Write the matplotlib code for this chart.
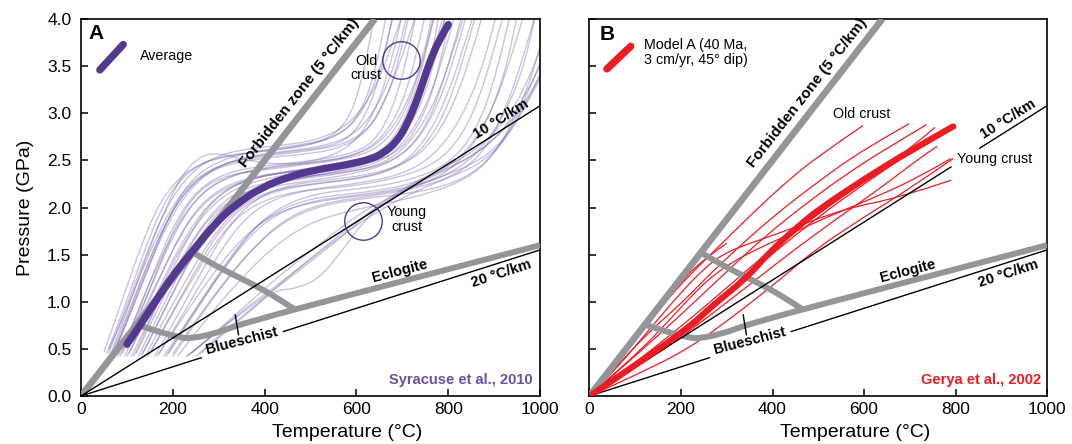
import numpy as np
import matplotlib.pyplot as plt
from matplotlib.path import Path
from matplotlib.patches import PathPatch

plt.rcParams['font.family'] = ['Liberation Sans', 'DejaVu Sans']

GRAY = '#939598'
PURPLE = '#54388f'
LIGHT_PURPLE = '#6a52a3'
RED = '#ed1c24'

# geotherms (T in degC, P in GPa), straight lines through the origin
geo5_T, geo5_P = [0, 640], [0, 4.0]
geo10_T, geo10_P = [0, 1000], [0, 3.08]
# 20 C/km is broken where the Blueschist label sits
geo20_a_T, geo20_a_P = [0, 262], [0, 0.406]
geo20_b_T, geo20_b_P = [441, 1000], [0.684, 1.55]
# panel B: 10 C/km broken before its label
geo10_a_T, geo10_a_P = [0, 790], [0, 2.43]
geo10_b_T, geo10_b_P = [853, 1000], [2.63, 3.08]

# facies boundaries
ecl_lower_T = [120, 170, 217, 239, 290, 341, 400, 465, 1000]
ecl_lower_P = [0.76, 0.68, 0.62, 0.61, 0.66, 0.75, 0.83, 0.92, 1.60]
ecl_upper_T = [244, 305, 377, 428, 465]
ecl_upper_P = [1.52, 1.35, 1.18, 1.04, 0.92]
bs_tick_T = [336, 343]
bs_tick_P = [0.86, 0.65]

# Syracuse et al. (2010) slab-top paths
avg_T = [100, 130, 163, 200, 245, 290, 336, 396, 450, 500, 576, 630, 660, 688, 710, 731, 745, 760, 780, 800]
avg_P = [0.55, 0.76, 1.01, 1.28, 1.55, 1.82, 2.03, 2.22, 2.32, 2.39, 2.45, 2.51, 2.58, 2.70, 2.88, 3.13, 3.33, 3.55, 3.78, 3.94]

syr_T = [
    [55, 90, 130, 170, 210, 260, 320, 400, 500, 580, 630, 660, 690, 715],
    [65, 100, 140, 180, 230, 290, 380, 480, 560, 620, 660, 700, 730],
    [80, 120, 160, 200, 250, 310, 400, 500, 600, 660, 700, 730, 750],
    [90, 130, 170, 215, 265, 330, 420, 520, 620, 680, 720, 750, 770],
    [100, 140, 180, 220, 270, 330, 420, 520, 610, 670, 720, 760, 790],
    [110, 150, 190, 235, 290, 350, 440, 540, 640, 700, 750, 790, 815],
    [120, 160, 200, 250, 300, 370, 460, 560, 650, 710, 760, 795],
    [130, 170, 215, 265, 320, 390, 490, 590, 680, 740, 790, 830],
    [75, 110, 150, 190, 240, 300, 380, 470, 550, 600, 640, 665, 680],
    [60, 95, 135, 175, 215, 270, 350, 450, 530, 580, 610, 630, 640],
    [85, 125, 165, 205, 255, 320, 410, 510, 600, 650, 690, 715, 730],
    [140, 180, 225, 280, 340, 410, 500, 600, 690, 750, 800, 840, 855],
    [150, 195, 245, 300, 360, 440, 540, 640, 720, 780, 830, 860],
    [100, 135, 175, 215, 260, 320, 400, 480, 560, 640, 690, 730, 760, 770],
    [115, 155, 195, 240, 290, 360, 450, 550, 640, 700, 745, 780, 805],
    [160, 210, 260, 320, 380, 460, 560, 660, 740, 800, 850, 875],
    [50, 85, 120, 160, 200, 250, 320, 400, 480, 560, 610, 645, 665],
    [70, 110, 150, 195, 240, 300, 380, 460, 540, 600, 640, 670, 680],
    [95, 135, 180, 230, 285, 350, 440, 540, 630, 690, 730, 765, 780],
    [170, 220, 280, 340, 400, 480, 580, 680, 770, 830, 880, 920],
    [180, 240, 300, 360, 420, 500, 600, 700, 790, 860, 910, 950, 965],
    [200, 260, 320, 380, 450, 530, 630, 730, 820, 880, 930, 970, 990],
    [210, 270, 340, 410, 490, 570, 670, 760, 840, 900, 950, 990, 1010],
    [190, 250, 310, 370, 430, 510, 610, 710, 800, 860, 905, 935],
    [230, 300, 370, 440, 520, 590, 640, 700, 780, 860, 930, 980, 1010],
    [250, 320, 390, 460, 530, 600, 660, 730, 820, 900, 960, 1010],
    [260, 320, 380, 420, 470, 520, 570, 615, 660, 740, 840, 920, 980, 1010],
    [230, 290, 350, 420, 500, 580, 660, 740, 820, 880, 930, 970, 1010],
    [240, 310, 380, 450, 530, 610, 690, 770, 850, 910, 960, 1010],
    [105, 145, 185, 230, 280, 340, 430, 530, 620, 680, 730, 770, 795],
    [125, 165, 205, 255, 310, 380, 470, 570, 660, 720, 770, 810, 835],
    [70, 105, 145, 190, 240, 300, 370, 450, 530, 600, 650, 690, 710],
    [90, 125, 165, 210, 260, 330, 420, 510, 600, 660, 705, 745, 765],
    [145, 190, 240, 290, 350, 420, 510, 610, 700, 770, 830, 880, 905],
    [165, 220, 280, 340, 400, 470, 560, 660, 750, 820, 880, 930, 950],
    [60, 95, 135, 180, 225, 280, 350, 440, 520, 590, 640, 680, 700],
    [135, 175, 220, 270, 330, 400, 490, 590, 670, 730, 780, 820, 840],
    [200, 250, 310, 370, 440, 520, 620, 720, 810, 880, 940, 985, 1010],
    [185, 240, 300, 360, 420, 500, 600, 700, 790, 860, 920, 970, 990],
    [65, 100, 140, 180, 220, 260, 300, 360, 440, 520, 590, 640, 680, 700],
]
syr_P = [
    [0.45, 0.80, 1.30, 1.75, 2.10, 2.35, 2.48, 2.55, 2.60, 2.68, 2.85, 3.10, 3.50, 4.05],
    [0.42, 0.85, 1.35, 1.80, 2.20, 2.42, 2.52, 2.56, 2.62, 2.78, 3.10, 3.60, 4.05],
    [0.42, 0.80, 1.25, 1.70, 2.10, 2.32, 2.42, 2.47, 2.55, 2.75, 3.10, 3.60, 4.05],
    [0.45, 0.85, 1.25, 1.70, 2.05, 2.25, 2.36, 2.42, 2.50, 2.70, 3.10, 3.60, 4.05],
    [0.42, 0.80, 1.20, 1.60, 1.95, 2.20, 2.33, 2.40, 2.45, 2.60, 2.95, 3.50, 4.05],
    [0.42, 0.82, 1.20, 1.60, 1.98, 2.20, 2.30, 2.36, 2.45, 2.65, 3.05, 3.60, 4.05],
    [0.45, 0.85, 1.25, 1.70, 2.00, 2.20, 2.30, 2.38, 2.50, 2.80, 3.30, 4.05],
    [0.42, 0.80, 1.25, 1.70, 2.02, 2.20, 2.28, 2.35, 2.48, 2.75, 3.30, 4.05],
    [0.50, 0.95, 1.45, 1.90, 2.25, 2.45, 2.55, 2.60, 2.65, 2.80, 3.20, 3.70, 4.05],
    [0.50, 0.95, 1.50, 2.00, 2.30, 2.50, 2.58, 2.62, 2.70, 2.90, 3.30, 3.80, 4.05],
    [0.42, 0.90, 1.40, 1.85, 2.20, 2.38, 2.45, 2.50, 2.58, 2.75, 3.20, 3.70, 4.05],
    [0.42, 0.80, 1.20, 1.65, 2.00, 2.18, 2.25, 2.30, 2.42, 2.70, 3.20, 3.80, 4.05],
    [0.45, 0.85, 1.30, 1.75, 2.05, 2.20, 2.27, 2.33, 2.50, 2.85, 3.50, 4.05],
    [0.50, 0.95, 1.45, 1.90, 2.20, 2.35, 2.40, 2.45, 2.50, 2.60, 2.85, 3.30, 3.85, 4.05],
    [0.42, 0.85, 1.30, 1.75, 2.10, 2.30, 2.38, 2.42, 2.48, 2.62, 2.95, 3.45, 4.05],
    [0.42, 0.85, 1.30, 1.80, 2.10, 2.25, 2.30, 2.38, 2.55, 2.95, 3.60, 4.05],
    [0.47, 0.95, 1.45, 1.95, 2.25, 2.45, 2.55, 2.60, 2.65, 2.75, 3.00, 3.50, 4.05],
    [0.45, 0.90, 1.40, 1.95, 2.30, 2.50, 2.60, 2.65, 2.72, 2.90, 3.30, 3.80, 4.05],
    [0.42, 0.85, 1.35, 1.85, 2.15, 2.30, 2.38, 2.44, 2.52, 2.72, 3.05, 3.60, 4.05],
    [0.45, 0.85, 1.35, 1.80, 2.05, 2.18, 2.22, 2.30, 2.45, 2.75, 3.30, 4.05],
    [0.42, 0.85, 1.30, 1.70, 1.95, 2.10, 2.15, 2.22, 2.38, 2.70, 3.20, 3.80, 4.05],
    [0.42, 0.85, 1.25, 1.60, 1.90, 2.05, 2.12, 2.20, 2.35, 2.60, 3.10, 3.70, 4.05],
    [0.42, 0.80, 1.20, 1.55, 1.82, 1.95, 2.05, 2.15, 2.30, 2.55, 3.00, 3.50, 3.90],
    [0.45, 0.90, 1.35, 1.75, 2.00, 2.15, 2.20, 2.28, 2.45, 2.80, 3.40, 4.05],
    [0.42, 0.70, 0.95, 1.20, 1.50, 1.78, 2.00, 2.20, 2.40, 2.60, 2.95, 3.40, 3.80],
    [0.42, 0.72, 1.00, 1.30, 1.58, 1.85, 2.05, 2.25, 2.45, 2.70, 3.10, 3.60],
    [0.45, 0.70, 0.95, 1.12, 1.14, 1.25, 1.55, 1.85, 2.05, 2.30, 2.50, 2.80, 3.20, 3.50],
    [0.42, 0.65, 0.90, 1.15, 1.45, 1.75, 2.00, 2.20, 2.35, 2.50, 2.75, 3.10, 3.45],
    [0.45, 0.75, 1.05, 1.35, 1.65, 1.95, 2.15, 2.30, 2.45, 2.65, 3.00, 3.50],
    [0.45, 0.88, 1.30, 1.72, 2.05, 2.27, 2.37, 2.42, 2.50, 2.68, 3.05, 3.60, 4.05],
    [0.42, 0.82, 1.22, 1.68, 2.02, 2.22, 2.30, 2.36, 2.46, 2.70, 3.10, 3.65, 4.05],
    [0.42, 0.85, 1.35, 1.85, 2.22, 2.45, 2.55, 2.60, 2.65, 2.78, 3.10, 3.60, 4.05],
    [0.50, 0.92, 1.38, 1.82, 2.15, 2.35, 2.44, 2.48, 2.55, 2.72, 3.05, 3.55, 4.05],
    [0.42, 0.80, 1.22, 1.62, 1.95, 2.12, 2.20, 2.26, 2.35, 2.55, 2.95, 3.55, 4.05],
    [0.42, 0.82, 1.25, 1.62, 1.88, 2.02, 2.10, 2.15, 2.25, 2.45, 2.85, 3.50, 4.05],
    [0.45, 0.90, 1.42, 1.95, 2.30, 2.52, 2.62, 2.66, 2.72, 2.90, 3.25, 3.75, 4.05],
    [0.45, 0.85, 1.28, 1.72, 2.05, 2.25, 2.33, 2.38, 2.47, 2.68, 3.10, 3.70, 4.05],
    [0.45, 0.80, 1.20, 1.55, 1.85, 2.02, 2.10, 2.15, 2.25, 2.45, 2.85, 3.35, 3.65],
    [0.42, 0.85, 1.28, 1.66, 1.92, 2.07, 2.13, 2.20, 2.32, 2.55, 2.95, 3.55, 4.05],
    [0.45, 0.90, 1.45, 1.95, 2.35, 2.55, 2.58, 2.50, 2.45, 2.50, 2.65, 3.00, 3.60, 4.05],
]

# Gerya et al. (2002) model paths
modelA_T = [0, 116, 221, 264, 343, 392, 456, 501, 603, 700, 795]
modelA_P = [0, 0.38, 0.74, 0.94, 1.25, 1.52, 1.80, 1.98, 2.31, 2.60, 2.86]

gerya_T = [
    [0, 60, 120, 166, 220, 275, 363, 430, 501, 598],
    [0, 60, 130, 200, 260, 326, 400, 501, 600, 699],
    [0, 70, 150, 230, 300, 380, 470, 560, 650, 737],
    [0, 80, 170, 260, 340, 430, 520, 620, 700, 755],
    [0, 100, 217, 327, 420, 492, 600, 700, 795],
    [0, 60, 130, 200, 250, 292, 350, 416, 559, 674, 791],
    [0, 70, 150, 230, 320, 410, 500, 600, 700, 750],
    [0, 50, 110, 170, 230, 280, 340, 430, 520, 620, 720, 790],
    [0, 90, 180, 270, 360, 450, 540, 640, 720, 760],
    [0, 40, 90, 140, 190, 240, 300],
]
gerya_P = [
    [0, 0.37, 0.74, 1.00, 1.29, 1.55, 1.97, 2.27, 2.55, 2.87],
    [0, 0.32, 0.68, 0.98, 1.28, 1.58, 1.90, 2.28, 2.62, 2.89],
    [0, 0.30, 0.64, 1.00, 1.32, 1.68, 2.03, 2.35, 2.63, 2.88],
    [0, 0.28, 0.62, 0.98, 1.32, 1.68, 2.00, 2.35, 2.62, 2.85],
    [0, 0.22, 0.50, 0.89, 1.25, 1.55, 1.90, 2.20, 2.52],
    [0, 0.30, 0.70, 1.10, 1.35, 1.51, 1.62, 1.73, 1.99, 2.10, 2.29],
    [0, 0.22, 0.50, 0.82, 1.18, 1.55, 1.90, 2.25, 2.58, 2.75],
    [0, 0.22, 0.48, 0.78, 1.10, 1.32, 1.50, 1.70, 1.90, 2.10, 2.32, 2.52],
    [0, 0.27, 0.55, 0.88, 1.22, 1.56, 1.88, 2.22, 2.52, 2.65],
    [0, 0.25, 0.55, 0.85, 1.15, 1.42, 1.62],
]


def smooth(ax, T, P, **kw):
    # quadratic Bezier through the mid-points, using the read points as controls
    pts = np.column_stack([T, P]).astype(float)
    verts = [pts[0]]
    codes = [Path.MOVETO]
    if len(pts) > 2:
        verts.append((pts[0] + pts[1]) / 2)
        codes.append(Path.LINETO)
        for i in range(1, len(pts) - 1):
            end = pts[i + 1] if i == len(pts) - 2 else (pts[i] + pts[i + 1]) / 2
            verts += [pts[i], end]
            codes += [Path.CURVE3, Path.CURVE3]
    else:
        verts.append(pts[1])
        codes.append(Path.LINETO)
    ax.add_patch(PathPatch(Path(verts, codes), fill=False, **kw))


def draw_base(ax, split10=False):
    ax.plot(geo5_T, geo5_P, color=GRAY, lw=4.8, solid_capstyle='butt', zorder=3)
    if split10:
        ax.plot(geo10_a_T, geo10_a_P, color='black', lw=1.0, zorder=4)
        ax.plot(geo10_b_T, geo10_b_P, color='black', lw=1.0, zorder=4)
    else:
        ax.plot(geo10_T, geo10_P, color='black', lw=1.0, zorder=4)
    ax.plot(geo20_a_T, geo20_a_P, color='black', lw=1.0, zorder=4)
    ax.plot(geo20_b_T, geo20_b_P, color='black', lw=1.0, zorder=4)
    smooth(ax, ecl_lower_T, ecl_lower_P, edgecolor=GRAY, lw=4.3, zorder=3)
    smooth(ax, ecl_upper_T, ecl_upper_P, edgecolor=GRAY, lw=4.3, zorder=3)
    ax.plot(bs_tick_T, bs_tick_P, color='black', lw=1.0, zorder=4)

    bold = dict(fontweight='bold', ha='center', va='center',
                rotation_mode='anchor', zorder=6)
    ax.text(476, 3.22, 'Forbidden zone (5 °C/km)', rotation=52, fontsize=11, **bold)
    ax.text(915, 2.94, '10 °C/km', rotation=32, fontsize=10.5, **bold)
    ax.text(915, 1.30, '20 °C/km', rotation=18, fontsize=10.5, **bold)
    ax.text(695, 1.33, 'Eclogite', rotation=14.5, fontsize=10.5, **bold)
    ax.text(350, 0.58, 'Blueschist', rotation=14.5, fontsize=10.5, **bold)

    ax.set_xlim(0, 1000)
    ax.set_ylim(0, 4.0)
    ax.set_xticks([0, 200, 400, 600, 800, 1000])
    ax.set_yticks(np.arange(0, 4.01, 0.5))
    ax.tick_params(direction='in', length=5, width=1.1, labelsize=12.5)
    ax.tick_params(axis='y', pad=7)
    ax.tick_params(axis='x', pad=4)
    for side in ['top', 'right', 'bottom', 'left']:
        ax.spines[side].set_linewidth(1.2)
    ax.set_xlabel('Temperature (°C)', fontsize=14, labelpad=2)
    ax.xaxis.set_label_coords(0.58, -0.075)


fig = plt.figure(figsize=(10.72, 4.44), dpi=100)
axA = fig.add_axes([0.0756, 0.1081, 0.4282, 0.8491])
axB = fig.add_axes([0.5499, 0.1081, 0.4268, 0.8491])

# ---- panel A
draw_base(axA)
for T, P in zip(syr_T, syr_P):
    smooth(axA, T, P, edgecolor=LIGHT_PURPLE, lw=1.0, alpha=0.35, zorder=2)
smooth(axA, avg_T, avg_P, edgecolor=PURPLE, lw=5.3, capstyle='round',
       joinstyle='round', zorder=5)
axA.plot([41, 92], [3.46, 3.73], color=PURPLE, lw=5.3, solid_capstyle='round')
axA.text(128, 3.61, 'Average', fontsize=10.3, va='center')
axA.text(33, 3.85, 'A', fontsize=15, fontweight='bold', ha='center', va='center')
for cx, cy in [(698, 3.56), (615, 1.86)]:
    axA.plot(cx, cy, marker='o', markersize=27, markerfacecolor='none',
             markeredgecolor=PURPLE, markeredgewidth=1.0, zorder=6)
axA.text(621, 3.48, 'Old\ncrust', fontsize=10.3, ha='center', va='center', linespacing=1.05)
axA.text(710, 1.87, 'Young\ncrust', fontsize=10.3, ha='center', va='center', linespacing=1.05)
axA.text(983, 0.17, 'Syracuse et al., 2010', fontsize=10.5, fontweight='bold',
         color='#6b4fa0', ha='right', va='center')
axA.set_ylabel('Pressure (GPa)', fontsize=14, labelpad=9)

# ---- panel B
draw_base(axB, split10=True)
for T, P in zip(gerya_T, gerya_P):
    smooth(axB, T, P, edgecolor=RED, lw=0.9, zorder=2)
smooth(axB, modelA_T, modelA_P, edgecolor=RED, lw=4.5, capstyle='round',
       joinstyle='round', zorder=5)
axB.plot([38, 90], [3.47, 3.71], color=RED, lw=5.3, solid_capstyle='round')
axB.text(120, 3.645, 'Model A (40 Ma,\n3 cm/yr, 45° dip)', fontsize=10.3,
         va='center', linespacing=1.1)
axB.text(38, 3.84, 'B', fontsize=15, fontweight='bold', ha='center', va='center')
axB.text(595, 2.99, 'Old crust', fontsize=10.3, ha='center', va='center')
axB.text(804, 2.51, 'Young crust', fontsize=10.3, ha='left', va='center')
axB.text(987, 0.17, 'Gerya et al., 2002', fontsize=10.5, fontweight='bold',
         color=RED, ha='right', va='center')
axB.set_yticklabels([])

fig.savefig('out.png', dpi=100)
